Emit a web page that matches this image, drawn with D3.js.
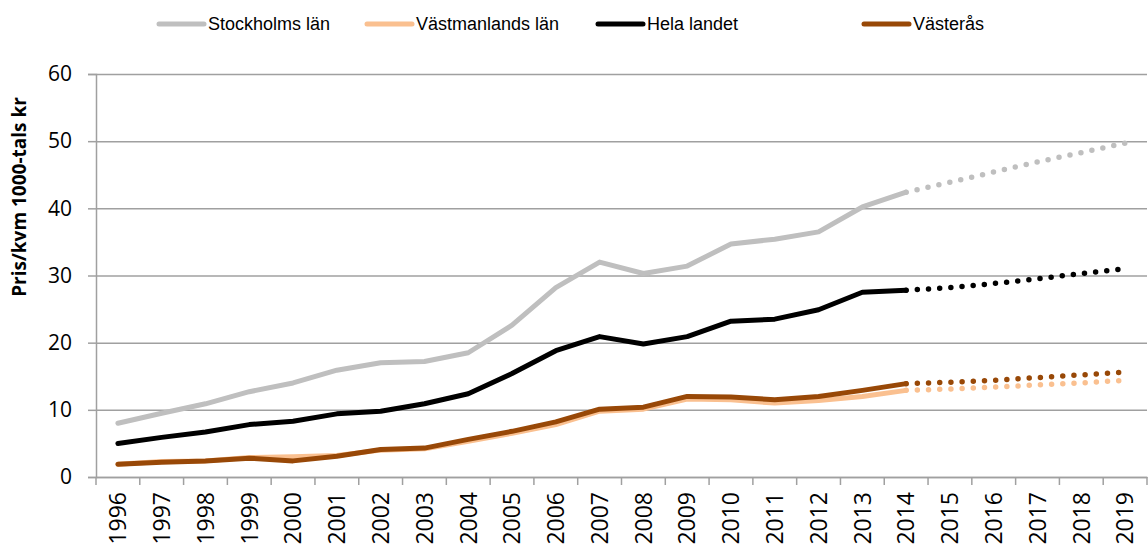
<!DOCTYPE html>
<html lang="sv">
<head>
<meta charset="UTF-8">
<title>Pris/kvm</title>
<script src="https://d3js.org/d3.v7.min.js"></script>
<style>
body { margin: 0; background: #fff; }
.tick text { fill: #000; }
.legend text { font-family: "Liberation Sans", Arial, sans-serif; font-size: 18px; }
</style>
</head>
<body>
<svg width="1148" height="547"></svg>
<script>
// data (2015-2019 are the dotted forecast part)
var years = ["1996","1997","1998","1999","2000","2001","2002","2003","2004","2005","2006","2007",
             "2008","2009","2010","2011","2012","2013","2014","2015","2016","2017","2018","2019"];
var stockholm   = [8.0, 9.5, 10.9, 12.7, 14.0, 15.9, 17.0, 17.2, 18.5, 22.6, 28.2, 32.0,
                   30.3, 31.4, 34.7, 35.4, 36.5, 40.2, 42.4, 43.9, 45.4, 46.9, 48.3, 49.7];
var vastmanland = [1.9, 2.3, 2.4, 2.9, 3.0, 3.2, 4.0, 4.2, 5.3, 6.5, 7.8, 9.8,
                   10.1, 11.6, 11.5, 11.0, 11.4, 12.0, 12.9, 13.1, 13.4, 13.7, 14.0, 14.4];
var helaLandet  = [5.0, 5.9, 6.7, 7.8, 8.3, 9.4, 9.8, 10.9, 12.4, 15.4, 18.8, 20.9,
                   19.8, 20.9, 23.2, 23.5, 24.9, 27.5, 27.8, 28.2, 28.8, 29.5, 30.3, 31.0];
var vasteras    = [1.9, 2.2, 2.4, 2.8, 2.4, 3.1, 4.1, 4.3, 5.6, 6.8, 8.2, 10.1,
                   10.4, 12.0, 11.9, 11.5, 12.0, 12.9, 13.9, 14.1, 14.4, 14.8, 15.2, 15.6];
var seriesNames = ["Stockholms län", "Västmanlands län", "Hela landet", "Västerås"];
var seriesColors = ["#bfbfbf", "#fac090", "#000000", "#984807"];
var lastActual = "2014";
var yTicks = [0, 10, 20, 30, 40, 50, 60];

var svg = d3.select("svg");
var plotLeft = 96, plotRight = 1147, plotTop = 74, plotBottom = 477;

var x = d3.scaleBand().domain(years).range([plotLeft, plotRight]).padding(0);
var y = d3.scaleLinear().domain([0, 60]).range([plotBottom, plotTop]);
var cx = function(d) { return x(d) + x.bandwidth() / 2; };

// gridlines
var grid = svg.append("g")
    .attr("transform", "translate(" + plotLeft + ",0)")
    .call(d3.axisLeft(y).tickValues(yTicks).tickSize(-(plotRight - plotLeft)).tickFormat(""));
grid.select(".domain").remove();
grid.selectAll("line").attr("stroke", "#a0a0a0").attr("stroke-width", 1.5);

// y axis
var yAxis = svg.append("g")
    .attr("transform", "translate(" + plotLeft + ",0)")
    .call(d3.axisLeft(y).tickValues(yTicks).tickSize(8).tickPadding(16));
yAxis.select(".domain").attr("stroke", "#a0a0a0").attr("stroke-width", 1.5);
yAxis.selectAll("line").attr("stroke", "#a0a0a0").attr("stroke-width", 1.5);
yAxis.selectAll("text")
    .style("font-family", "'Open Sans', sans-serif")
    .style("font-size", "21px");

// x axis: ticks between categories
var xAxis = svg.append("g")
    .attr("transform", "translate(0," + plotBottom + ")")
    .call(d3.axisBottom(x).tickSize(0).tickPadding(0));
xAxis.select(".domain").attr("stroke", "#a0a0a0").attr("stroke-width", 1.5);
xAxis.selectAll(".tick text")
    .attr("transform", "rotate(-90)")
    .attr("x", -15)
    .attr("y", 0)
    .attr("dy", "0.36em")
    .style("text-anchor", "end")
    .style("font-family", "'Open Sans', sans-serif")
    .style("font-size", "23px");
xAxis.selectAll(".sep")
    .data(years.concat(["end"]))
    .enter().append("line")
      .attr("class", "sep")
      .attr("x1", function(d, i) { return plotLeft + i * x.bandwidth(); })
      .attr("x2", function(d, i) { return plotLeft + i * x.bandwidth(); })
      .attr("y1", 0)
      .attr("y2", 8)
      .attr("stroke", "#a0a0a0")
      .attr("stroke-width", 1.5);

// y title
svg.append("text")
    .attr("transform", "translate(26,197) rotate(-90)")
    .attr("text-anchor", "middle")
    .style("font-family", "'Open Sans', sans-serif")
    .style("font-weight", "bold")
    .style("font-size", "19px")
    .text("Pris/kvm 1000-tals kr");

// lines
var allSeries = [stockholm, vastmanland, helaLandet, vasteras];
var cut = years.indexOf(lastActual);
var line = d3.line()
    .x(function(d) { return cx(d.year); })
    .y(function(d) { return y(d.value); });

allSeries.forEach(function(values, s) {
  var pts = years.map(function(yr, i) { return {year: yr, value: values[i]}; });
  svg.append("path")
      .datum(pts.slice(0, cut + 1))
      .attr("d", line)
      .attr("fill", "none")
      .attr("stroke", seriesColors[s])
      .attr("stroke-width", 5)
      .attr("stroke-linejoin", "round")
      .attr("stroke-linecap", "round");
  svg.append("path")
      .datum(pts.slice(cut))
      .attr("d", line)
      .attr("fill", "none")
      .attr("stroke", seriesColors[s])
      .attr("stroke-width", 5.5)
      .attr("stroke-linecap", "round")
      .attr("stroke-dasharray", "0 11.2")
      .attr("stroke-dashoffset", -11.2);
});

// legend
var legendX = [157, 365, 596, 862];
var legend = svg.append("g").attr("class", "legend")
  .selectAll("g")
  .data(seriesNames)
  .enter().append("g")
    .attr("transform", function(d, i) { return "translate(" + legendX[i] + ",24)"; });
legend.append("line")
    .attr("x1", 2).attr("x2", 47)
    .attr("stroke", function(d, i) { return seriesColors[i]; })
    .attr("stroke-width", 5)
    .attr("stroke-linecap", "round");
legend.append("text")
    .attr("x", 51)
    .attr("dy", "0.35em")
    .text(function(d) { return d; });
</script>
</body>
</html>
